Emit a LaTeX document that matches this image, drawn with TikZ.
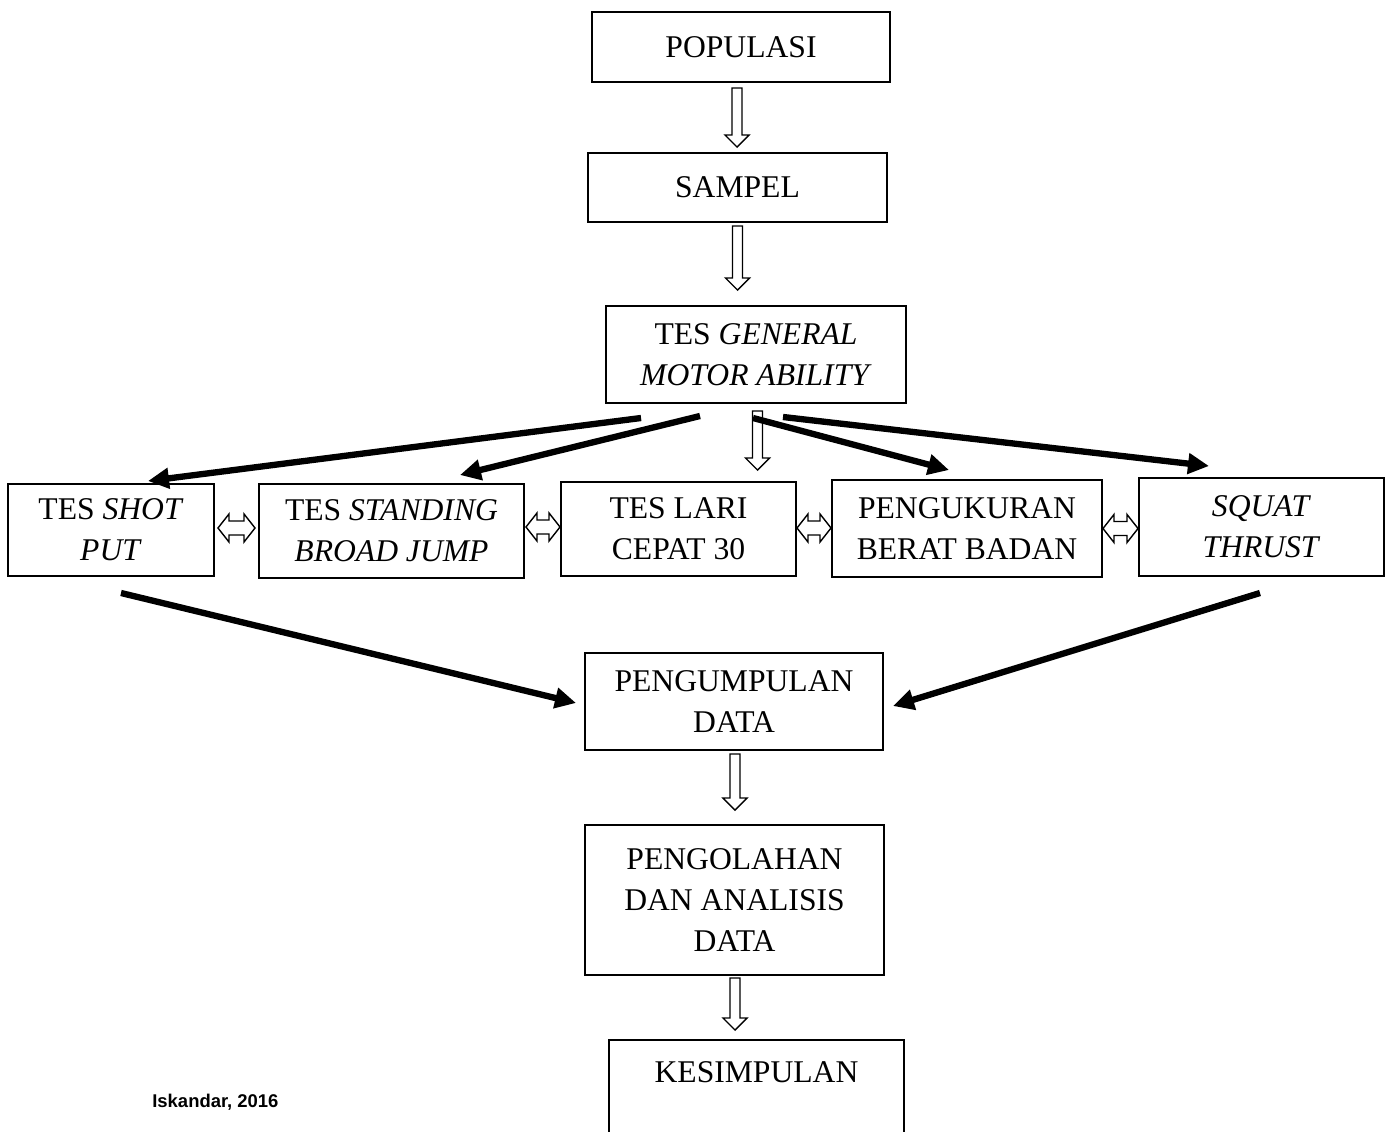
\documentclass[tikz,border=0pt]{standalone}
\usepackage{fontspec}
\setmainfont{Liberation Serif}
\newfontfamily\notefont{Liberation Sans}
\usetikzlibrary{arrows.meta,calc}

\tikzset{
  box/.style={draw, line width=1.1pt, align=center, inner sep=0pt, outer sep=0pt,
    font=\fontsize{18}{23.4}\selectfont},
  bigarrow/.style={line width=3.6pt, -{Triangle[length=0.42cm,width=0.4cm]}},
  hollow/.style={line width=0.8pt, to path={let \p1=(\tikztostart), \p2=(\tikztotarget) in
    (\x1-0.1cm,\y1) -- (\x1-0.1cm,\y2+0.24cm) -- (\x1-0.24cm,\y2+0.24cm) -- (\x1,\y2)
    -- (\x1+0.24cm,\y2+0.24cm) -- (\x1+0.1cm,\y2+0.24cm) -- (\x1+0.1cm,\y1) -- cycle}},
  dblhollow/.style={line width=0.8pt, to path={let \p1=(\tikztostart), \p2=(\tikztotarget) in
    (\x1,\y1) -- (\x1+0.22cm,\y1+0.28cm) -- (\x1+0.22cm,\y1+0.14cm) -- (\x2-0.22cm,\y1+0.14cm)
    -- (\x2-0.22cm,\y1+0.28cm) -- (\x2,\y1) -- (\x2-0.22cm,\y1-0.28cm) -- (\x2-0.22cm,\y1-0.14cm)
    -- (\x1+0.22cm,\y1-0.14cm) -- (\x1+0.22cm,\y1-0.28cm) -- cycle}}
}

\begin{document}
\begin{tikzpicture}[x=0.02cm, y=-0.02cm]
\clip (0,0) rectangle (1386,1132);

% main column
\node[box, minimum width=5.96cm, minimum height=1.4cm] (pop) at (741,47) {POPULASI};
\node[box, minimum width=5.98cm, minimum height=1.38cm] (samp) at (737.5,187.5) {SAMPEL};
\node[box, minimum width=6cm, minimum height=1.94cm] (gma) at (756,354.5) {TES \textit{GENERAL}\\\textit{MOTOR ABILITY}};

% tests row
\node[box, minimum width=4.12cm, minimum height=1.84cm] (shot) at (111,530) {TES \textit{SHOT}\\\textit{PUT}};
\node[box, minimum width=5.3cm, minimum height=1.88cm] (stand) at (391.5,531) {TES \textit{STANDING}\\\textit{BROAD JUMP}};
\node[box, minimum width=4.7cm, minimum height=1.88cm] (lari) at (678.5,529) {TES LARI\\CEPAT 30};
\node[box, minimum width=5.4cm, minimum height=1.94cm] (peng) at (967,528.5) {PENGUKURAN\\BERAT BADAN};
\node[box, minimum width=4.9cm, minimum height=1.96cm] (squat) at (1261.5,527) {\textit{SQUAT}\\\textit{THRUST}};

% lower column
\node[box, minimum width=5.96cm, minimum height=1.94cm] (pkmp) at (734,701.5) {PENGUMPULAN\\DATA};
\node[box, minimum width=5.98cm, minimum height=3cm] (pglh) at (734.5,900) {PENGOLAHAN\\DAN ANALISIS\\DATA};
\node[box, anchor=north, minimum width=5.9cm, text height=0.84cm, text depth=3cm] (kes) at (756.5,1040) {KESIMPULAN};

\node[font=\notefont\bfseries\fontsize{10.5}{12}\selectfont, anchor=base west, inner sep=0pt] (src) at (152,1107) {Iskandar, 2016};

% hollow arrows
\draw[hollow] ([shift={(-4,6)}]pop.south) to ([shift={(0,-6)}]samp.north);
\draw[hollow] ([shift={(0,4)}]samp.south) to ([shift={(0,-16)}]gma.north);
\draw[hollow] ([shift={(1.5,8)}]gma.south) to ([shift={(0,-12)}]lari.north);
\draw[hollow] ([shift={(1,4)}]pkmp.south) to ([shift={(0,-15)}]pglh.north);
\draw[hollow] ([shift={(0.5,3)}]pglh.south) to ([shift={(0,-10)}]kes.north);

% double arrows between tests
\draw[dblhollow] ([shift={(4,-2)}]shot.east) to ([shift={(-4,-2)}]stand.west);
\draw[dblhollow] ([shift={(2,-4)}]stand.east) to ([shift={(-1,0)}]lari.west);
\draw[dblhollow] ([shift={(1,-1)}]lari.east) to ([shift={(-1,0)}]peng.west);
\draw[dblhollow] ([shift={(1,0)}]peng.east) to ([shift={(-1,0)}]squat.west);

% thick arrows
\draw[bigarrow] ([shift={(35,15)}]gma.south west) -- ([shift={(37,-3)}]shot.north);
\draw[bigarrow] ([shift={(-56,13)}]gma.south) -- ([shift={(68.5,-9)}]stand.north);
\draw[bigarrow] ([shift={(-3,15)}]gma.south) -- ([shift={(-18,-10)}]peng.north);
\draw[bigarrow] ([shift={(27,14)}]gma.south) -- ([shift={(-52.5,-12)}]squat.north);
\draw[bigarrow] ([shift={(10,17)}]shot.south) -- ([shift={(-9,1.5)}]pkmp.west);
\draw[bigarrow] ([shift={(-1.5,17)}]squat.south) -- ([shift={(10,4.5)}]pkmp.east);
\end{tikzpicture}
\end{document}
